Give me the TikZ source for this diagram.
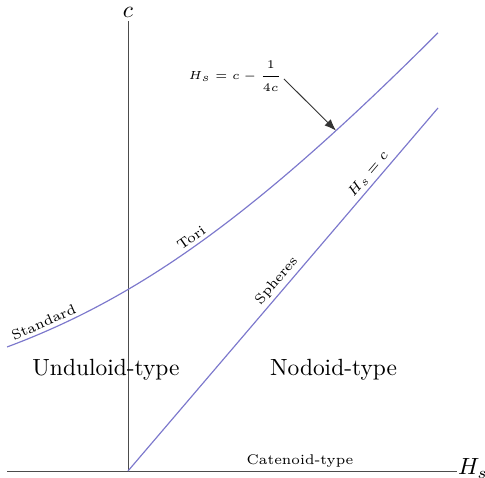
\documentclass[tikz,border=0pt]{standalone}
\usetikzlibrary{arrows.meta}
\definecolor{curveblue}{RGB}{124,120,204}
\begin{document}
\begin{tikzpicture}[x=4.65cm, y=5.445cm,
    curve/.style={curveblue, line width=0.5pt},
    axis/.style={black!70, line width=0.4pt},
    lbl/.style={font=\fontsize{6}{7}\selectfont, inner sep=1.5pt}]
    \useasboundingbox (-0.4129,-0.0193) rectangle (1.1516,1.2975);

    % Axes
    \draw[axis] (-0.39,0) -- (1.06,0) node[right, black, inner sep=0.5pt, yshift=1pt] (Hs) {$H_s$};
    \draw[axis] (0,0) -- (0,1.24);
    \node[inner sep=0pt] (c) at (0,1.264) {$c$};

    % Curve H_s = c - 1/(4c)
    \draw[curve, domain=-0.39:1, samples=80] plot ({\x}, {(\x+sqrt(\x*\x+1))/2});
    \coordinate (tip) at (0.671,0.9376);

    % Line H_s = c
    \draw[curve] (0,0) -- (1,1);

    % Labels along the curves
    \node[lbl, above, rotate=23.7] (standard) at (-0.26,0.3864) {Standard};
    \node[lbl, above, rotate=35] (tori) at (0.22,0.6223) {Tori};
    \node[lbl, above, rotate=49.5] (spheres) at (0.505,0.505) {Spheres};
    \node[lbl, above, rotate=49.5] (line) at (0.8,0.8) {$H_s=c$};

    % Formula and arrow
    \node[lbl, font=\fontsize{5.3}{6}\selectfont] (formula) at (0.345,1.088) {$H_s=c-\displaystyle\frac{1}{4c}$};
    \coordinate (start) at (0.503,1.080);
    \draw[-{Latex[length=5pt]}, black!80] (start) -- (tip);

    % Regions
    \node (undul) at (-0.071,0.28) {Unduloid-type};
    \node (nodoid) at (0.663,0.28) {Nodoid-type};
    \node[lbl, above] (catenoid) at (0.555,0) {Catenoid-type};
\end{tikzpicture}
\end{document}
